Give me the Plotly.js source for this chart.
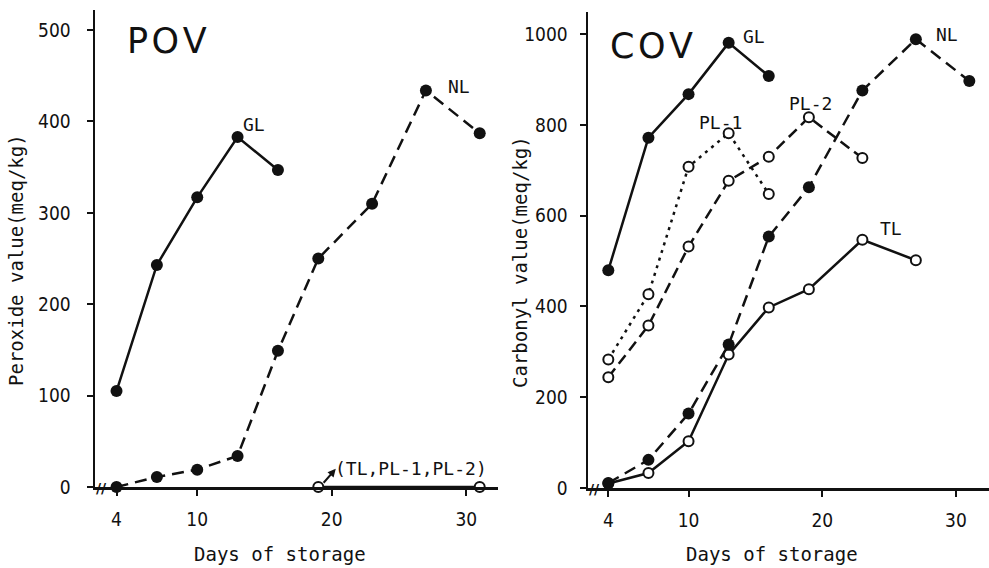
<!DOCTYPE html>
<html>
<head>
<meta charset="utf-8">
<script src="https://cdn.plot.ly/plotly-3.0.1.min.js"></script>
<style>html,body{margin:0;padding:0;background:#fff;}#chart{width:989px;height:568px;}</style>
</head>
<body>
<div id="chart"></div>
<script>
// ---- data ----
const daysFull = [4, 7, 10, 13, 16, 19, 23, 27, 31];
const daysGL = [4, 7, 10, 13, 16];
const povGL = [105, 243, 317, 383, 347];
const povNL = [0, 11, 19, 34, 149, 250, 310, 434, 387];
const povOthersDays = [19, 31];
const povOthers = [0, 0];

const covGL = [480, 772, 868, 981, 908];
const covNL = [11, 62, 164, 316, 554, 663, 876, 989, 897];
const daysTL = [4, 7, 10, 13, 16, 19, 23, 27];
const covTL = [10, 33, 103, 294, 398, 438, 547, 502];
const daysPL1 = [4, 7, 10, 13, 16];
const covPL1 = [283, 427, 708, 782, 648];
const daysPL2 = [4, 7, 10, 13, 16, 19, 23];
const covPL2 = [244, 358, 532, 677, 730, 817, 727];

const xTicks = [4, 10, 20, 30];
const povTicks = [0, 100, 200, 300, 400, 500];
const covTicks = [0, 200, 400, 600, 800, 1000];

// ---- helpers ----
const W = 989, H = 568;
const px = v => v / W;
const py = v => 1 - v / H;
const labelFont = {family: 'DejaVu Sans Mono', size: 18, color: '#111'};
const monoFont = {family: 'DejaVu Sans Mono', size: 19, color: '#111'};

const filled = {color: '#111', size: 12};
const open = {color: '#fff', size: 10, line: {color: '#111', width: 2}};

function tr(x, y, xa, ya, marker, dash) {
  return {x: x, y: y, xaxis: xa, yaxis: ya, type: 'scatter', mode: 'lines+markers',
    cliponaxis: false, showlegend: false, hoverinfo: 'skip',
    line: {color: '#111', width: 2.5, dash: dash}, marker: marker};
}

const data = [
  tr(daysGL, povGL, 'x', 'y', filled, 'solid'),
  tr(daysFull, povNL, 'x', 'y', filled, '12px,7px'),
  tr(povOthersDays, povOthers, 'x', 'y', open, 'solid'),
  tr(daysTL, covTL, 'x2', 'y2', open, 'solid'),
  tr(daysPL2, covPL2, 'x2', 'y2', open, '11px,6px'),
  tr(daysPL1, covPL1, 'x2', 'y2', open, '3px,5px'),
  tr(daysFull, covNL, 'x2', 'y2', filled, '12px,7px'),
  tr(daysGL, covGL, 'x2', 'y2', filled, 'solid')
];

const tickFont = {family: 'DejaVu Sans Condensed', size: 19, color: '#111'};
function xax(domain, range, anchor) {
  return {domain: domain, range: range, anchor: anchor, tickvals: xTicks, ticktext: xTicks.map(String),
    showgrid: false, zeroline: false, showline: true, linewidth: 2.5, linecolor: '#111',
    ticks: 'outside', ticklen: 6, tickwidth: 2, tickcolor: '#111', tickfont: tickFont,
    ticklabelstandoff: 8, fixedrange: true};
}
function yax(domain, range, anchor, ticks, standoff) {
  return {domain: domain, range: range, anchor: anchor, tickvals: ticks, ticktext: ticks.map(String),
    showgrid: false, zeroline: false, showline: true, linewidth: 2.5, linecolor: '#111',
    ticks: 'outside', ticklen: 6, tickwidth: 2, tickcolor: '#111', tickfont: tickFont,
    ticklabelstandoff: standoff, fixedrange: true};
}

function txt(x, y, text, font, extra) {
  return Object.assign({xref: 'paper', yref: 'paper', x: px(x), y: py(y), text: text,
    showarrow: false, font: font, xanchor: 'center', yanchor: 'middle'}, extra || {});
}

const bigFont = {family: 'DejaVu Sans', size: 35, color: '#111'};
const breakFont = {family: 'DejaVu Sans', size: 14, color: '#111', weight: 'bold'};

const annotations = [
  txt(167, 41, 'P\u200aO\u200aV', bigFont),
  txt(651, 46, 'C\u200aO\u200aV', bigFont),
  txt(254, 125, 'GL', labelFont),
  txt(459, 87, 'NL', labelFont),
  txt(333, 468, '(TL,PL-1,PL-2)', labelFont, {xanchor: 'left'}),
  txt(754, 36, 'GL', labelFont),
  txt(947, 34, 'NL', labelFont),
  txt(810, 103, 'PL-2', labelFont),
  txt(720, 122, 'PL-1', labelFont),
  txt(891, 228, 'TL', labelFont),
  txt(280, 554, 'Days of storage', monoFont),
  txt(772, 554, 'Days of storage', monoFont),
  txt(16, 260, 'Peroxide value(meq/kg)', monoFont, {textangle: -90}),
  txt(520, 262, 'Carbonyl value(meq/kg)', monoFont, {textangle: -90}),
  txt(101, 488, '//', breakFont),
  txt(594, 489, '//', breakFont),
  {xref: 'x', yref: 'y', x: 20.3, y: 20, axref: 'x', ayref: 'y', ax: 19.3, ay: 3,
   text: '', showarrow: true, arrowhead: 2, arrowsize: 0.8, arrowwidth: 2, arrowcolor: '#111'}
];

const layout = {
  width: W, height: H,
  margin: {l: 0, r: 0, t: 0, b: 0},
  paper_bgcolor: '#fff', plot_bgcolor: 'rgba(0,0,0,0)',
  xaxis: xax([px(95), px(498)], [2.40, 32.36], 'y'),
  yaxis: yax([py(487), py(10)], [0, 522], 'x', povTicks, 12),
  xaxis2: xax([px(588), 1], [2.48, 32.47], 'y2'),
  yaxis2: yax([py(488), py(12)], [0, 1049], 'x2', covTicks, 8),
  annotations: annotations,
  showlegend: false
};

Plotly.newPlot('chart', data, layout, {staticPlot: true, displayModeBar: false});
</script>
</body>
</html>
